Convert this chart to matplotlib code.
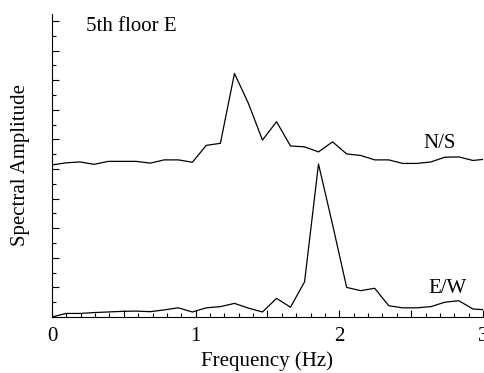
import matplotlib
matplotlib.use("Agg")
import matplotlib.pyplot as plt
from matplotlib.ticker import MultipleLocator, FuncFormatter

# Frequency bins (Hz)
freq = [0.000, 0.098, 0.195, 0.293, 0.391, 0.488, 0.586, 0.684, 0.781, 0.879,
        0.977, 1.074, 1.172, 1.270, 1.367, 1.465, 1.563, 1.660, 1.758, 1.855,
        1.953, 2.051, 2.148, 2.246, 2.344, 2.441, 2.539, 2.637, 2.734, 2.832,
        2.930, 3.027]

# N/S spectrum (offset upward in the original figure)
ns_amp = [5.14, 5.21, 5.24, 5.16, 5.26, 5.26, 5.26, 5.20, 5.31, 5.31,
          5.23, 5.80, 5.87, 8.23, 7.22, 5.98, 6.60, 5.78, 5.75, 5.58,
          5.92, 5.51, 5.46, 5.31, 5.31, 5.19, 5.19, 5.24, 5.40, 5.41,
          5.29, 5.34]

# E/W spectrum
ew_amp = [0.00, 0.12, 0.12, 0.15, 0.17, 0.19, 0.20, 0.18, 0.24, 0.31,
          0.17, 0.31, 0.35, 0.46, 0.30, 0.17, 0.63, 0.33, 1.19, 5.17,
          3.12, 1.00, 0.89, 0.97, 0.38, 0.31, 0.31, 0.35, 0.50, 0.55,
          0.27, 0.24]

x_ticks = [0, 1, 2, 3]

plt.rcParams["font.family"] = ["Liberation Serif", "DejaVu Serif"]
plt.rcParams["font.size"] = 15

fig = plt.figure(figsize=(4.85, 3.73), dpi=100)
ax = fig.add_axes([52 / 485, 56 / 373, 431 / 485, 303 / 373])

ax.plot(freq, ns_amp, color="black", linewidth=0.9)
ax.plot(freq, ew_amp, color="black", linewidth=0.9)

ax.set_xlim(0, 3)
ax.set_ylim(0, 10.24)

# Only left and bottom spines
ax.spines["top"].set_visible(False)
ax.spines["right"].set_visible(False)
for s in ("left", "bottom"):
    ax.spines[s].set_linewidth(0.8)

ax.xaxis.set_major_locator(MultipleLocator(0.5))
ax.xaxis.set_minor_locator(MultipleLocator(0.1))
ax.xaxis.set_major_formatter(
    FuncFormatter(lambda v, p: f"{int(round(v))}" if abs(v - round(v)) < 1e-6 else ""))
ax.yaxis.set_major_locator(MultipleLocator(1))
ax.yaxis.set_minor_locator(MultipleLocator(0.5))
ax.set_yticklabels([])

ax.tick_params(which="both", direction="in", width=0.8, top=False, right=False)
ax.tick_params(which="major", length=5)
ax.tick_params(which="minor", length=2.8)
ax.tick_params(axis="x", which="major", pad=7, labelsize=15)

ax.set_xlabel("Frequency (Hz)", labelpad=4)
ax.set_ylabel("Spectral Amplitude", labelpad=12)

ax.text(0.237, 9.66, "5th floor E", va="baseline", ha="left")
ax.text(2.585, 5.71, "N/S", va="baseline", ha="left")
ax.text(2.62, 0.81, "E/W", va="baseline", ha="left")

fig.savefig("out.png", dpi=100)
